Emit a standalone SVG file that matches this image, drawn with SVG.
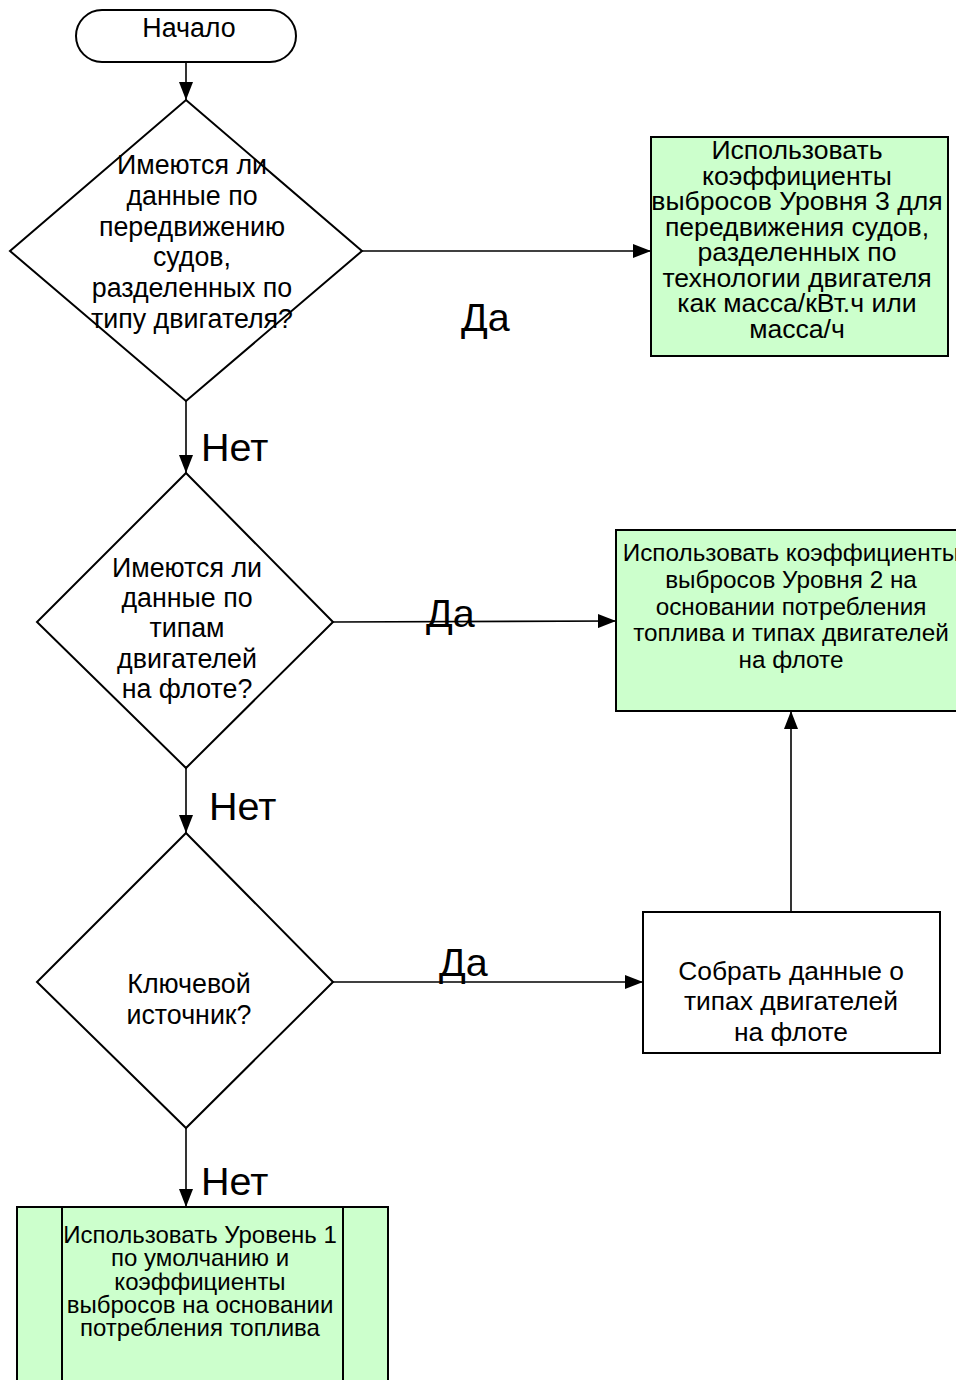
<svg xmlns="http://www.w3.org/2000/svg" width="956" height="1380" viewBox="0 0 956 1380">
<style>
.s{fill:#fff;stroke:#000;stroke-width:2}
.g{fill:#ccffcc;stroke:#000;stroke-width:2}
.t{font-family:"Liberation Sans",Arial,sans-serif;fill:#000;text-anchor:middle}
.c{fill:none;stroke:#000;stroke-width:1.6}
.lbl{font-family:"Liberation Sans",Arial,sans-serif;fill:#000;font-size:39.5px}
</style>
<defs>
<marker id="ah" markerUnits="userSpaceOnUse" markerWidth="18" markerHeight="14" refX="18" refY="7" orient="auto">
<path d="M0,0 L18,7 L0,14 z" fill="#000"/>
</marker>
</defs>
<rect width="956" height="1380" fill="#fff"/>
<g id="connectors">
<line class="c" x1="186" y1="62" x2="186" y2="100" marker-end="url(#ah)"/>
<line class="c" x1="362" y1="251" x2="651" y2="251" marker-end="url(#ah)"/>
<line class="c" x1="186" y1="401" x2="186" y2="473" marker-end="url(#ah)"/>
<line class="c" x1="333" y1="622" x2="616" y2="621" marker-end="url(#ah)"/>
<line class="c" x1="186" y1="768" x2="186" y2="833" marker-end="url(#ah)"/>
<line class="c" x1="333" y1="982" x2="643" y2="982" marker-end="url(#ah)"/>
<line class="c" x1="791" y1="911" x2="791" y2="711" marker-end="url(#ah)"/>
<line class="c" x1="186" y1="1128" x2="186" y2="1207" marker-end="url(#ah)"/>
<text class="lbl" x="461" y="331">Да</text>
<text class="lbl" x="201" y="461">Нет</text>
<text class="lbl" x="426" y="627">Да</text>
<text class="lbl" x="209" y="820">Нет</text>
<text class="lbl" x="439" y="976">Да</text>
<text class="lbl" x="201" y="1195">Нет</text>
</g>
<g id="start">
<rect class="s" x="76" y="10" width="220" height="52" rx="26" ry="26"/>
<text class="t" x="189" y="37" font-size="26.8">Начало</text>
</g>
<g id="decision1">
<polygon class="s" points="186,100 362,251 186,401 10,251"/>
<text class="t" font-size="26.8"><tspan x="192" y="174">Имеются ли</tspan><tspan x="192" y="205">данные по</tspan><tspan x="192" y="236">передвижению</tspan><tspan x="192" y="266">судов,</tspan><tspan x="192" y="297">разделенных по</tspan><tspan x="192" y="328">типу двигателя?</tspan></text>
</g>
<g id="tier3">
<rect class="g" x="651" y="137" width="297" height="219"/>
<text class="t" font-size="26.6"><tspan x="797" y="159">Использовать</tspan><tspan x="797" y="184.5">коэффициенты</tspan><tspan x="797" y="210">выбросов Уровня 3 для</tspan><tspan x="797" y="235.5">передвижения судов,</tspan><tspan x="797" y="261">разделенных по</tspan><tspan x="797" y="286.5">технологии двигателя</tspan><tspan x="797" y="312">как масса/кВт.ч или</tspan><tspan x="797" y="337.5">масса/ч</tspan></text>
</g>
<g id="decision2">
<polygon class="s" points="186,473 333,622 186,768 37,622"/>
<text class="t" font-size="26.8"><tspan x="187" y="577">Имеются ли</tspan><tspan x="187" y="607">данные по</tspan><tspan x="187" y="637">типам</tspan><tspan x="187" y="668">двигателей</tspan><tspan x="187" y="698">на флоте?</tspan></text>
</g>
<g id="tier2">
<rect class="g" x="616" y="530" width="350" height="181"/>
<text class="t" font-size="24.3"><tspan x="791" y="561">Использовать коэффициенты</tspan><tspan x="791" y="588">выбросов Уровня 2 на</tspan><tspan x="791" y="615">основании потребления</tspan><tspan x="791" y="641">топлива и типах двигателей</tspan><tspan x="791" y="668">на флоте</tspan></text>
</g>
<g id="decision3">
<polygon class="s" points="186,833 333,982 186,1128 37,982"/>
<text class="t" font-size="26.8"><tspan x="189" y="993">Ключевой</tspan><tspan x="189" y="1024">источник?</tspan></text>
</g>
<g id="collect">
<rect class="s" x="643" y="912" width="297" height="141"/>
<text class="t" font-size="26.4"><tspan x="791" y="980">Собрать данные о</tspan><tspan x="791" y="1010">типах двигателей</tspan><tspan x="791" y="1041">на флоте</tspan></text>
</g>
<g id="tier1">
<rect class="g" x="17" y="1207" width="371" height="190"/>
<line class="s" x1="62" y1="1207" x2="62" y2="1397"/>
<line class="s" x1="343" y1="1207" x2="343" y2="1397"/>
<text class="t" font-size="24"><tspan x="200" y="1243">Использовать Уровень 1</tspan><tspan x="200" y="1266.3">по умолчанию и</tspan><tspan x="200" y="1289.6">коэффициенты</tspan><tspan x="200" y="1313">выбросов на основании</tspan><tspan x="200" y="1336.3">потребления топлива</tspan></text>
</g>
</svg>
